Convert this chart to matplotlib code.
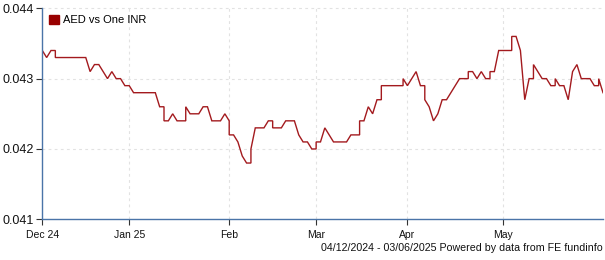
import numpy as np
import pandas as pd
import matplotlib
matplotlib.use('Agg')
import matplotlib.pyplot as plt
from matplotlib.patches import Patch

plt.rcParams['font.family'] = ['Liberation Sans', 'DejaVu Sans']

# ---------------- data ----------------
start_date = '2024-12-04'
end_date = '2025-06-03'
series_name = 'AED vs One INR'

# one value per weekday (Mon-Fri) from start_date to end_date
weekday_values = [
    0.0434, 0.0433, 0.0434,                                  # Dec 4-6
    0.0433, 0.0433, 0.0433, 0.0433, 0.0433,                  # Dec 9-13
    0.0433, 0.0433, 0.0433, 0.0431, 0.0432,                  # Dec 16-20
    0.0432, 0.0431, 0.0430, 0.0431, 0.0430,                  # Dec 23-27
    0.0430, 0.0429, 0.0429, 0.0428, 0.0428,                  # Dec 30-Jan 3
    0.0428, 0.0428, 0.0428, 0.0428, 0.0426,                  # Jan 6-10
    0.0424, 0.0424, 0.0425, 0.0424, 0.0424,                  # Jan 13-17
    0.0426, 0.0425, 0.0425, 0.0425, 0.0426,                  # Jan 20-24
    0.0426, 0.0424, 0.0424, 0.0424, 0.0425,                  # Jan 27-31
    0.0422, 0.0422, 0.0421, 0.0419, 0.0418,                  # Feb 3-7
    0.0420, 0.0423, 0.0423, 0.0423, 0.0424,                  # Feb 10-14
    0.0423, 0.0423, 0.0423, 0.0424, 0.0424,                  # Feb 17-21
    0.0424, 0.0422, 0.0421, 0.0421, 0.0420,                  # Feb 24-28
    0.0421, 0.0421, 0.0423, 0.0422, 0.0421,                  # Mar 3-7
    0.0421, 0.0421, 0.0421, 0.0422, 0.0422,                  # Mar 10-14
    0.0424, 0.0424, 0.0426, 0.0425, 0.0427,                  # Mar 17-21
    0.0429, 0.0429, 0.0429, 0.0429, 0.0429,                  # Mar 24-28
    0.0430, 0.0429, 0.0430, 0.0431, 0.0429,                  # Mar 31-Apr 4
    0.0427, 0.0426, 0.0424, 0.0425, 0.0427,                  # Apr 7-11
    0.0427, 0.0428, 0.0429, 0.0430, 0.0430,                  # Apr 14-18
    0.0431, 0.0431, 0.0430, 0.0431, 0.0430,                  # Apr 21-25
    0.0431, 0.0431, 0.0434, 0.0434, 0.0434,                  # Apr 28-May 2
    0.0436, 0.0436, 0.0434, 0.0427, 0.0430,                  # May 5-9
    0.0432, 0.0431, 0.0430, 0.0430, 0.0429,                  # May 12-16
    0.0430, 0.0429, 0.0429, 0.0427, 0.0431,                  # May 19-23
    0.0432, 0.0430, 0.0430, 0.0430, 0.0429,                  # May 26-30
    0.0430, 0.0428,                                          # Jun 2-3
]

# value published on each Saturday in the range (weekends share Monday's slot)
saturday_values = [
    0.0434, 0.0433, 0.0432, 0.0430,                          # Dec 7-28
    0.0428, 0.0426, 0.0424, 0.0426,                          # Jan 4-25
    0.0424, 0.0418, 0.0424, 0.0424,                          # Feb 1-22
    0.0420, 0.0421, 0.0422, 0.0427, 0.0429,                  # Mar 1-29
    0.0429, 0.0427, 0.0430, 0.0430,                          # Apr 5-26
    0.0434, 0.0430, 0.0429, 0.0432, 0.0429,                  # May 3-31
]

tick_dates = ['2024-12-04', '2025-01-01', '2025-02-03',
              '2025-03-03', '2025-04-01', '2025-05-01']
tick_labels = ['Dec 24', 'Jan 25', 'Feb', 'Mar', 'Apr', 'May']
y_ticks = [0.041, 0.042, 0.043, 0.044]
y_tick_labels = ['0.041', '0.042', '0.043', '0.044']
footer = '04/12/2024 - 03/06/2025 Powered by data from FE fundinfo'

# ---------------- build series ----------------
weekdays = pd.bdate_range(start_date, end_date)
saturdays = pd.date_range(start_date, end_date, freq='W-SAT')
s = pd.concat([pd.Series(weekday_values, index=weekdays),
               pd.Series(saturday_values, index=saturdays)]).sort_index()
start64 = np.datetime64(start_date)
xpos = np.busday_count(start64, s.index.values.astype('datetime64[D]'))
tick_pos = np.busday_count(start64, np.array(tick_dates, dtype='datetime64[D]'))

# ---------------- draw ----------------
W, H = 605, 260
fig = plt.figure(figsize=(W / 100, H / 100), dpi=100)
left, right, top, bottom = 42.3, 603.0, 8.3, 219.3
ax = fig.add_axes([left / W, 1 - bottom / H, (right - left) / W, (bottom - top) / H])

line_color = '#a31a1e'
axis_color = '#4a74a8'
ax.plot(xpos, s.values, color=line_color, lw=1.0, solid_joinstyle='miter')

ax.set_xlim(0, len(weekdays) - 1)
ax.set_ylim(y_ticks[0], y_ticks[-1])
ax.set_yticks(y_ticks)
ax.set_yticklabels(y_tick_labels)
ax.set_xticks(tick_pos)
ax.set_xticklabels(tick_labels)

for sp in ('top', 'right'):
    ax.spines[sp].set_visible(False)
for sp in ('left', 'bottom'):
    ax.spines[sp].set_color(axis_color)
    ax.spines[sp].set_linewidth(1.0)

ax.tick_params(axis='both', direction='out', length=4, width=0.8,
               color='#333333', labelcolor='#111111')
ax.tick_params(axis='y', labelsize=9, pad=2)
ax.tick_params(axis='x', labelsize=7.5, pad=4)

for yv in y_ticks[1:]:
    ax.axhline(yv, color='#e2e2e2', lw=0.8, ls=(0, (2.5, 3)), zorder=0, clip_on=False)
for xv in tick_pos[1:]:
    ax.axvline(xv, color='#e2e2e2', lw=0.8, ls=(0, (2.5, 3)), zorder=0)

leg = ax.legend(handles=[Patch(facecolor='#990000', edgecolor='#990000')],
                labels=[series_name], loc='upper left', frameon=False,
                fontsize=8, handlelength=0.9, handleheight=0.9,
                handletextpad=0.4, borderaxespad=0.3, borderpad=0.3)

fig.text(right / W, 1 - 248 / H, footer, ha='right', va='center',
         fontsize=7.7, color='#111111')

fig.savefig('out.png', dpi=100)
